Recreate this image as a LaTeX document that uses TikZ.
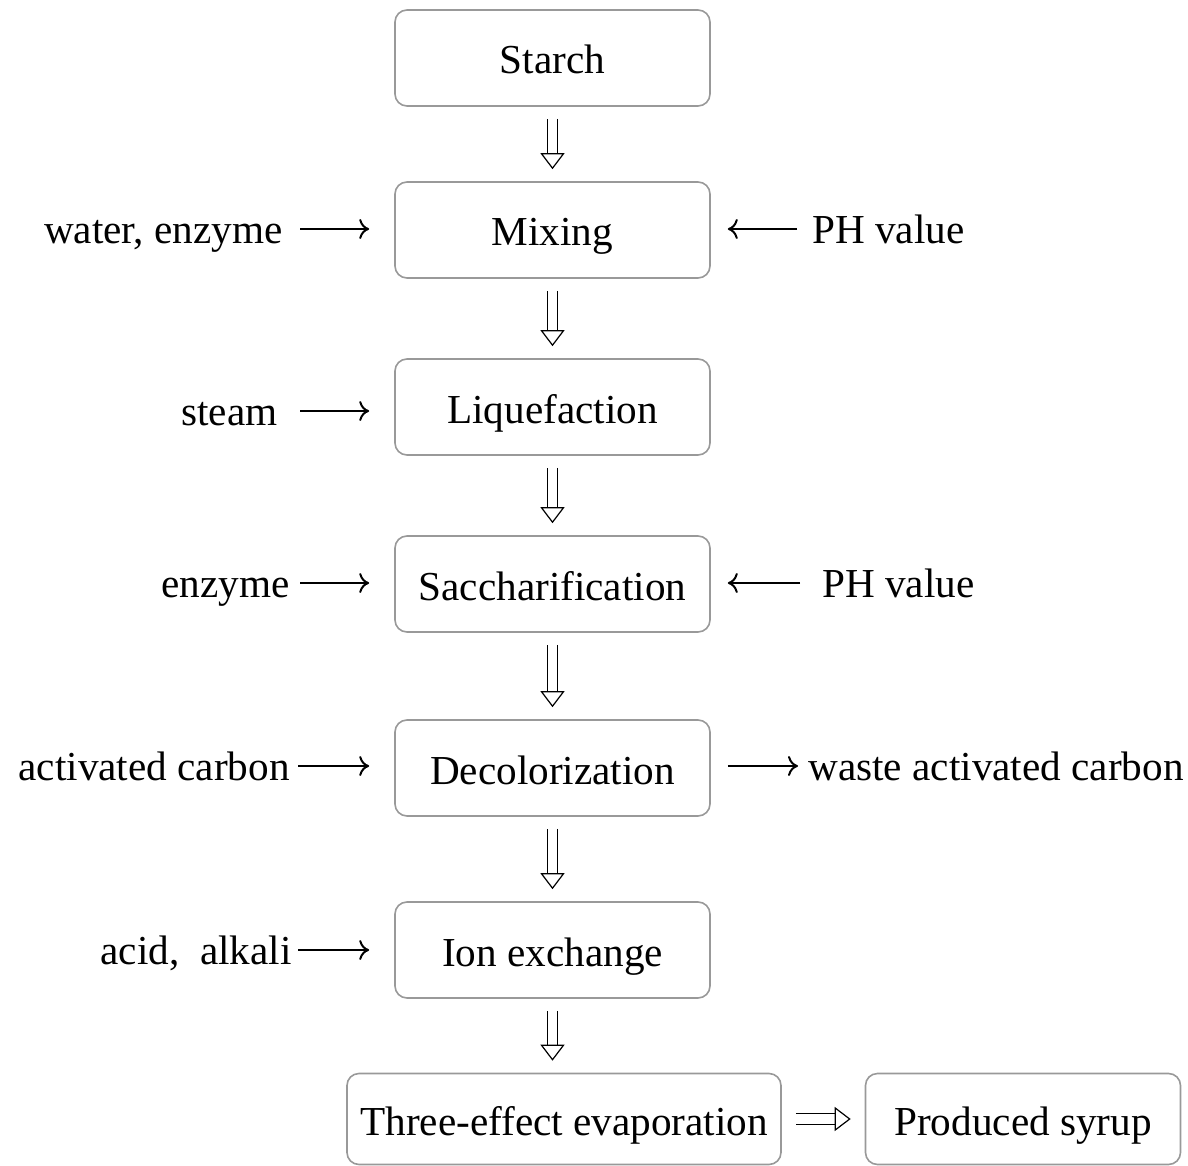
\documentclass[tikz,border=0pt]{standalone}
\usepackage{fontspec}
\setmainfont{Liberation Serif}
\usetikzlibrary{arrows.meta}
\tikzset{
  stepbox/.style={draw=gray!80, line width=0.8pt, rounded corners=6pt,
    minimum width=157.5pt, minimum height=48pt, inner sep=0pt,
    text height=18pt, text depth=2pt},
  sidetext/.style={inner sep=0pt, text height=16pt, text depth=2pt},
  flow/.style={double, double distance=4.6pt, line width=0.6pt,
    -{Triangle[open, length=8pt, width=12pt]},
    shorten <=6pt, shorten >=6pt},
  feed/.style={line width=1pt, -{To[length=5pt,width=10pt]}}
}
\begin{document}
\begin{tikzpicture}[x=0.5pt, y=-0.5pt, font=\fontsize{20.6pt}{24pt}\selectfont]
        \useasboundingbox (0,0) rectangle (1188,1166);
        % main column
        \node[stepbox] (starch) at (552.5,58) {Starch};
        \node[stepbox] (mix) at (552.5,230) {Mixing};
        \node[stepbox] (liq) at (552.5,407) {Liquefaction};
        \node[stepbox] (sacc) at (552.5,584) {Saccharification};
        \node[stepbox] (decol) at (552.5,768) {Decolorization};
        \node[stepbox] (ion) at (552.5,950) {Ion exchange};
        \node[stepbox, minimum width=217pt, minimum height=45.5pt] (evap) at (564,1119) {Three-effect evaporation};
        \node[stepbox, minimum height=45.5pt] (syrup) at (1023,1119) {Produced syrup};
        \draw[flow] (starch) -- (mix);
        \draw[flow] (mix) -- (liq);
        \draw[flow] (liq) -- (sacc);
        \draw[flow] (sacc) -- (decol);
        \draw[flow] (decol) -- (ion);
        \draw[flow] (ion.south) -- (ion.south |- evap.north);
        \draw[flow, shorten <=7pt, shorten >=7pt] (evap) -- (syrup);
        % inputs and outputs
        \node[sidetext, anchor=east] (water) at (283,229) {water, enzyme};
        \node[sidetext, anchor=west] (ph1) at (812,229) {PH value};
        \node[sidetext, anchor=east] (steam) at (278,411) {steam};
        \node[sidetext, anchor=east] (enz) at (290,583) {enzyme};
        \node[sidetext, anchor=west] (ph2) at (822,583) {PH value};
        \node[sidetext, anchor=east] (carbon) at (290,766) {activated carbon};
        \node[sidetext, anchor=west] (waste) at (808,766) {waste activated carbon};
        \node[sidetext, anchor=east] (acid) at (292,950) {acid,\ \ alkali};
        \draw[feed, shorten <=8.5pt, shorten >=12.5pt] (water.east) -- (mix.west |- water.east);
        \draw[feed, shorten <=7.5pt, shorten >=8.5pt] (ph1.west) -- (mix.east |- ph1.west);
        \draw[feed, shorten <=11pt, shorten >=12.5pt] (steam.east) -- (liq.west |- steam.east);
        \draw[feed, shorten <=5pt, shorten >=12.5pt] (enz.east) -- (sacc.west |- enz.east);
        \draw[feed, shorten <=11pt, shorten >=8.5pt] (ph2.west) -- (sacc.east |- ph2.west);
        \draw[feed, shorten <=4pt, shorten >=12.5pt] (carbon.east) -- (decol.west |- carbon.east);
        \draw[feed, shorten <=8.5pt, shorten >=5pt] (decol.east |- waste.west) -- (waste.west);
        \draw[feed, shorten <=3pt, shorten >=12.5pt] (acid.east) -- (ion.west |- acid.east);
\end{tikzpicture}
\end{document}
